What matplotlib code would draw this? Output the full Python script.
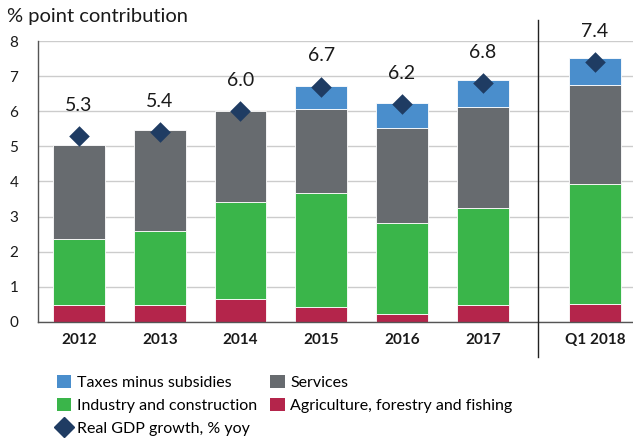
import matplotlib
matplotlib.use("Agg")
import matplotlib.pyplot as plt
from matplotlib.patches import Patch
from matplotlib.lines import Line2D
import matplotlib.transforms as mtransforms

plt.rcParams['font.family'] = ['Lato', 'DejaVu Sans']

periods = ["2012", "2013", "2014", "2015", "2016", "2017", "Q1 2018"]
agriculture = [0.47, 0.47, 0.64, 0.41, 0.23, 0.47, 0.52]
industry = [1.88, 2.11, 2.77, 3.25, 2.59, 2.76, 3.42]
services = [2.70, 2.88, 2.59, 2.40, 2.71, 2.89, 2.81]
taxes = [0.00, 0.00, 0.00, 0.65, 0.70, 0.76, 0.78]
gdp_growth = [5.3, 5.4, 6.0, 6.7, 6.2, 6.8, 7.4]

c_tax = "#4A8ECC"
c_srv = "#676B6F"
c_ind = "#3AB54A"
c_agr = "#B4254B"
c_gdp = "#1F3C63"

xpos = [0, 1, 2, 3, 4, 5, 6.39]
width = 0.64

fig = plt.figure(figsize=(6.33, 4.42), dpi=100)
ax = fig.add_axes([0.0596, 0.272, 0.9404, 0.635])

b1 = [a for a in agriculture]
b2 = [a + i for a, i in zip(agriculture, industry)]
b3 = [s + v for s, v in zip(b2, services)]

ax.bar(xpos, agriculture, width, color=c_agr, edgecolor="white", linewidth=0.6, zorder=2)
ax.bar(xpos, industry, width, bottom=b1, color=c_ind, edgecolor="white", linewidth=0.6, zorder=2)
ax.bar(xpos, services, width, bottom=b2, color=c_srv, edgecolor="white", linewidth=0.6, zorder=2)
tx = [(x, t, b) for x, t, b in zip(xpos, taxes, b3) if t > 0]
ax.bar([t[0] for t in tx], [t[1] for t in tx], width, bottom=[t[2] for t in tx],
       color=c_tax, edgecolor="white", linewidth=0.6, zorder=2)

ax.scatter(xpos, gdp_growth, marker="D", s=110, color=c_gdp, zorder=4, linewidths=0)
for x, g in zip(xpos, gdp_growth):
    ax.annotate(f"{g:.1f}", (x, g), xytext=(0, 16), textcoords="offset points",
                ha="center", va="bottom", fontsize=14, color="#1a1a1a")

ax.set_xlim(-0.51, 6.86)
ax.set_ylim(0, 8)
ax.set_yticks(range(0, 9))
ax.yaxis.grid(True, color="#cccccc", linewidth=1.0, zorder=0)
ax.set_axisbelow(True)
ax.set_xticks(xpos)
ax.set_xticklabels(periods, fontweight="bold", fontsize=11)
ax.tick_params(axis="both", length=0, labelsize=11, colors="#1a1a1a")
ax.tick_params(axis="x", pad=8)
ax.tick_params(axis="y", pad=14)
for s in ["top", "right"]:
    ax.spines[s].set_visible(False)
ax.spines["left"].set_color("#555555")
ax.spines["bottom"].set_color("#555555")
ax.spines["left"].set_linewidth(1.0)
ax.spines["bottom"].set_linewidth(1.0)

trans = mtransforms.blended_transform_factory(ax.transData, ax.transAxes)
ax.plot([5.69, 5.69], [-0.125, 1.075], transform=trans, color="#222222",
        linewidth=1.0, clip_on=False, zorder=5)

fig.text(0.011, 0.962, "% point contribution", fontsize=14.5, ha="left", va="center",
         color="#1a1a1a")

handles = [
    Patch(facecolor=c_tax, label="Taxes minus subsidies"),
    Patch(facecolor=c_ind, label="Industry and construction"),
    Line2D([], [], marker="D", linestyle="none", color=c_gdp, markersize=10,
           label="Real GDP growth, % yoy"),
    Patch(facecolor=c_srv, label="Services"),
    Patch(facecolor=c_agr, label="Agriculture, forestry and fishing"),
]
fig.legend(handles=handles, ncol=2, loc="upper left", bbox_to_anchor=(0.077, 0.17),
           frameon=False, fontsize=11.5, handlelength=0.9, handleheight=0.9,
           handletextpad=0.35, columnspacing=0.85, labelspacing=0.5, borderpad=0)

fig.savefig("out.png", dpi=100)
